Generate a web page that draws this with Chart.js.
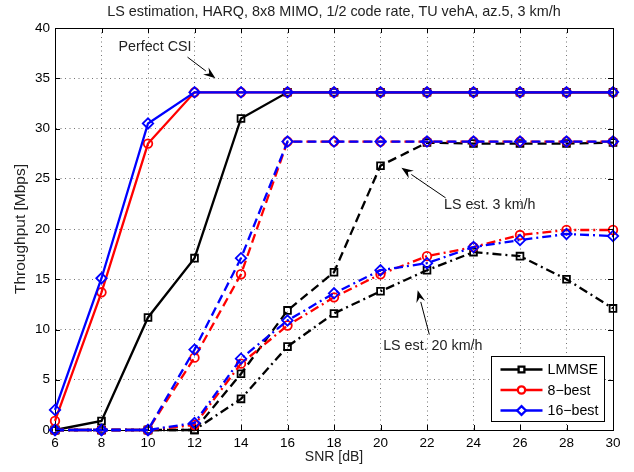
<!DOCTYPE html>
<html>
<head>
<meta charset="utf-8">
<script src="https://cdn.jsdelivr.net/npm/chart.js@4/dist/chart.umd.min.js"></script>
<style>
html,body{margin:0;padding:0;background:#fff;}
canvas{display:block;}
</style>
</head>
<body>
<canvas id="c" width="634" height="472"></canvas>
<script>
// ---- data ----
const snr = [6, 8, 10, 12, 14, 16, 18, 20, 22, 24, 26, 28, 30];

const lmmsePerfect = [0, 0.9, 11.2, 17.1, 31.0, 33.6, 33.6, 33.6, 33.6, 33.6, 33.6, 33.6, 33.6];
const best8Perfect = [0.9, 13.7, 28.5, 33.6, 33.6, 33.6, 33.6, 33.6, 33.6, 33.6, 33.6, 33.6, 33.6];
const best16Perfect = [2.0, 15.1, 30.5, 33.6, 33.6, 33.6, 33.6, 33.6, 33.6, 33.6, 33.6, 33.6, 33.6];

const lmmse3 = [0, 0, 0, 0, 5.6, 11.9, 15.7, 26.3, 28.6, 28.5, 28.5, 28.5, 28.6];
const best8_3 = [0, 0, 0, 7.2, 15.5, 28.7, 28.7, 28.7, 28.7, 28.7, 28.7, 28.7, 28.7];
const best16_3 = [0, 0, 0, 8.0, 17.1, 28.7, 28.7, 28.7, 28.7, 28.7, 28.7, 28.7, 28.7];

const lmmse20 = [0, 0, 0, 0, 3.1, 8.3, 11.6, 13.8, 15.9, 17.7, 17.3, 15.0, 12.1];
const best8_20 = [0, 0, 0, 0.5, 6.6, 10.4, 13.2, 15.5, 17.3, 18.2, 19.4, 19.9, 19.9];
const best16_20 = [0, 0, 0, 0.7, 7.1, 10.9, 13.6, 15.9, 16.6, 18.2, 18.9, 19.5, 19.3];

const xTicks = [6, 8, 10, 12, 14, 16, 18, 20, 22, 24, 26, 28, 30];
const yTicks = [0, 5, 10, 15, 20, 25, 30, 35, 40];

const titleText = 'LS estimation, HARQ, 8x8 MIMO, 1/2 code rate, TU vehA, az.5, 3 km/h';
const xLabel = 'SNR [dB]';
const yLabel = 'Throughput [Mbps]';
const legendLabels = ['LMMSE', '8\u2212best', '16\u2212best'];

// annotations (text position and arrow in data units)
const notes = [
  {text: 'Perfect CSI', tx: 10.3, ty: 38.1, from: [11.7, 37.1], to: [12.9, 35.0]},
  {text: 'LS est. 3 km/h', tx: 24.7, ty: 22.4, from: [22.8, 23.1], to: [20.9, 26.1]},
  {text: 'LS est. 20 km/h', tx: 22.25, ty: 8.4, from: [22.1, 9.5], to: [21.6, 13.9]}
];

// ---- styles ----
const FONT = "'Liberation Sans', Arial, Helvetica, sans-serif";
const families = [
  {color: '#000000', style: 'rect', radius: 4.8, order: 2},
  {color: '#ff0000', style: 'circle', radius: 4.3, order: 1},
  {color: '#0000ff', style: 'rectRot', radius: 5.2, order: 0}
];
const dashes = {perfect: [], kmh3: [9, 5], kmh20: [9, 4, 2, 4]};

function mk(data, fam, dash) {
  const f = families[fam];
  return {
    data: snr.map((x, i) => ({x: x, y: data[i]})),
    borderColor: f.color,
    borderWidth: 2.3,
    borderDash: dash,
    pointStyle: f.style,
    pointRadius: f.radius,
    pointBorderColor: f.color,
    pointBorderWidth: 1.8,
    pointBackgroundColor: 'rgba(0,0,0,0)',
    fill: false,
    tension: 0,
    clip: false,
    order: f.order
  };
}

const datasets = [
  mk(lmmsePerfect, 0, dashes.perfect),
  mk(best8Perfect, 1, dashes.perfect),
  mk(best16Perfect, 2, dashes.perfect),
  mk(lmmse3, 0, dashes.kmh3),
  mk(best8_3, 1, dashes.kmh3),
  mk(best16_3, 2, dashes.kmh3),
  mk(lmmse20, 0, dashes.kmh20),
  mk(best8_20, 1, dashes.kmh20),
  mk(best16_20, 2, dashes.kmh20)
];

function arrow(ctx, x1, y1, x2, y2) {
  ctx.save();
  ctx.strokeStyle = '#000';
  ctx.fillStyle = '#000';
  ctx.lineWidth = 1;
  const ang = Math.atan2(y2 - y1, x2 - x1);
  const L = 12, W = 4.5;
  const bx = x2 - L * Math.cos(ang), by = y2 - L * Math.sin(ang);
  ctx.beginPath();
  ctx.moveTo(x1, y1);
  ctx.lineTo(bx, by);
  ctx.stroke();
  ctx.beginPath();
  ctx.moveTo(x2, y2);
  ctx.lineTo(bx + W * Math.sin(ang), by - W * Math.cos(ang));
  ctx.lineTo(bx + 0.35 * L * Math.cos(ang), by + 0.35 * L * Math.sin(ang));
  ctx.lineTo(bx - W * Math.sin(ang), by + W * Math.cos(ang));
  ctx.closePath();
  ctx.fill();
  ctx.restore();
}

const decor = {
  id: 'decor',
  afterDraw(chart) {
    const ctx = chart.ctx;
    const a = chart.chartArea;
    const xs = chart.scales.x, ys = chart.scales.y;
    ctx.save();
    // box top & right
    ctx.strokeStyle = '#000';
    ctx.lineWidth = 1;
    ctx.beginPath();
    ctx.moveTo(a.left, Math.round(a.top) + 0.5);
    ctx.lineTo(a.right, Math.round(a.top) + 0.5);
    ctx.moveTo(Math.round(a.right) + 0.5, a.top);
    ctx.lineTo(Math.round(a.right) + 0.5, a.bottom);
    ctx.stroke();
    // inward ticks
    const T = 5;
    ctx.beginPath();
    xTicks.forEach(v => {
      const px = Math.round(xs.getPixelForValue(v)) + 0.5;
      ctx.moveTo(px, a.bottom); ctx.lineTo(px, a.bottom - T);
      ctx.moveTo(px, a.top); ctx.lineTo(px, a.top + T);
    });
    yTicks.forEach(v => {
      const py = Math.round(ys.getPixelForValue(v)) + 0.5;
      ctx.moveTo(a.left, py); ctx.lineTo(a.left + T, py);
      ctx.moveTo(a.right, py); ctx.lineTo(a.right - T, py);
    });
    ctx.stroke();
    // title
    ctx.fillStyle = '#222';
    ctx.font = '14.4px ' + FONT;
    ctx.textAlign = 'center';
    ctx.textBaseline = 'middle';
    ctx.fillText(titleText, (a.left + a.right) / 2, 12.5);
    // annotations
    ctx.font = '14.3px ' + FONT;
    ctx.fillStyle = '#222';
    notes.forEach(n => {
      ctx.fillText(n.text, xs.getPixelForValue(n.tx), ys.getPixelForValue(n.ty));
      arrow(ctx, xs.getPixelForValue(n.from[0]), ys.getPixelForValue(n.from[1]),
            xs.getPixelForValue(n.to[0]), ys.getPixelForValue(n.to[1]));
    });
    // legend
    const lx = 491.5, ly = 356.5, lw = 113, lh = 65;
    ctx.fillStyle = '#fff';
    ctx.fillRect(lx, ly, lw, lh);
    ctx.strokeStyle = '#000';
    ctx.lineWidth = 1;
    ctx.strokeRect(lx, ly, lw, lh);
    ctx.font = '14.2px ' + FONT;
    ctx.textAlign = 'left';
    ctx.textBaseline = 'middle';
    legendLabels.forEach((lab, i) => {
      const f = families[i];
      const y = ly + 13 + i * 20.5;
      ctx.strokeStyle = f.color;
      ctx.lineWidth = 2.3;
      ctx.beginPath();
      ctx.moveTo(lx + 9, y);
      ctx.lineTo(lx + 51, y);
      ctx.stroke();
      ctx.fillStyle = '#fff';
      ctx.strokeStyle = f.color;
      Chart.helpers.drawPoint(ctx, {pointStyle: f.style, radius: f.radius * 0.85, borderWidth: 1.8, rotation: 0}, lx + 30, y);
      ctx.fillStyle = '#000';
      ctx.fillText(lab, lx + 56, y + 1);
    });
    ctx.restore();
  }
};

new Chart(document.getElementById('c'), {
  type: 'line',
  data: {datasets: datasets},
  options: {
    responsive: false,
    animation: false,
    events: [],
    layout: {padding: {top: 28, right: 21, left: 0, bottom: 0}},
    plugins: {legend: {display: false}, title: {display: false}, tooltip: {enabled: false}},
    scales: {
      x: {
        type: 'linear',
        min: 6, max: 30,
        afterBuildTicks: s => { s.ticks = xTicks.map(v => ({value: v})); },
        afterFit: s => { s.height = 42; },
        ticks: {font: {size: 13.5, family: FONT}, color: '#000', padding: 5, maxRotation: 0},
        grid: {color: 'rgba(0,0,0,0.55)', lineWidth: 1, drawTicks: false},
        border: {display: true, color: '#000', width: 1, dash: [1, 3.5]},
        title: {display: true, text: xLabel, font: {size: 14, family: FONT}, color: '#222', padding: {top: 0, bottom: 6.6}}
      },
      y: {
        type: 'linear',
        min: 0, max: 40,
        afterBuildTicks: s => { s.ticks = yTicks.map(v => ({value: v})); },
        afterFit: s => { s.width = 55; },
        ticks: {font: {size: 13.5, family: FONT}, color: '#000', padding: 5},
        grid: {color: 'rgba(0,0,0,0.55)', lineWidth: 1, drawTicks: false},
        border: {display: true, color: '#000', width: 1, dash: [1, 3.5]},
        title: {display: true, text: yLabel, font: {size: 15.5, family: FONT}, color: '#222', padding: {top: 11, bottom: 0}}
      }
    }
  },
  plugins: [decor]
});
</script>
</body>
</html>
